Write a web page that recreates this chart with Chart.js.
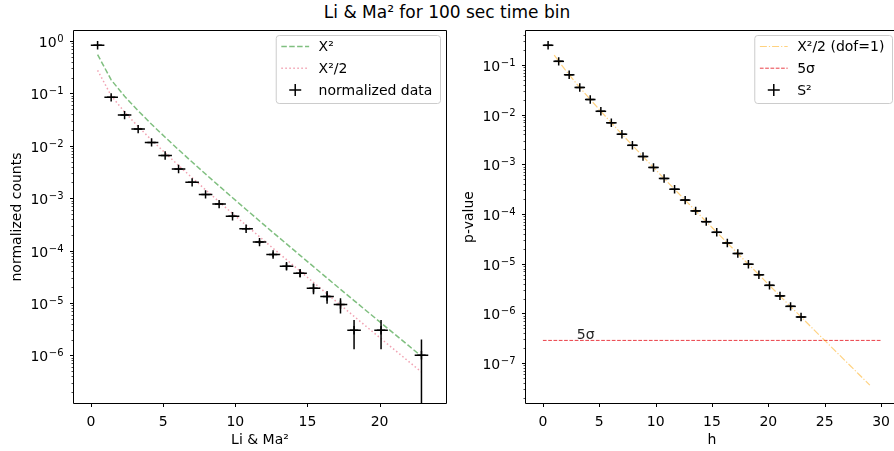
<!DOCTYPE html>
<html><head><meta charset="utf-8">
<script src="https://cdn.jsdelivr.net/npm/chart.js@4.4.1/dist/chart.umd.min.js"></script>
<style>
html,body{margin:0;padding:0;background:#fff;overflow:hidden;width:894px;height:451px;position:relative;}
#title{position:absolute;left:0;top:2px;width:894px;text-align:center;font-family:"DejaVu Sans";font-size:17px;line-height:20px;color:#000;}
#c1{position:absolute;left:0;top:0;}
#c2{position:absolute;left:452px;top:0;}
</style></head><body>
<div id="title">Li &amp; Ma² for 100 sec time bin</div>
<canvas id="c1" width="452" height="451"></canvas>
<canvas id="c2" width="460" height="451"></canvas>
<script>
// ---------- data ----------
const binCenters = [0.46, 1.40, 2.33, 3.27, 4.20, 5.14, 6.07, 7.01, 7.94, 8.88, 9.81, 10.75, 11.68, 12.62, 13.55, 14.49, 15.42, 16.36, 17.29, 18.23, 19.16, 20.10, 21.03, 21.97, 22.90];
const binHalfWidth = 0.47;
const normCounts = [0.83, 0.084, 0.0385, 0.0208, 0.0116, 0.0065, 0.0036, 0.0020, 0.00118, 0.00077, 0.00045, 0.00026, 0.000145, 8.4e-5, 5.0e-5, 3.7e-5, 1.9e-5, 1.32e-5, 9.3e-6, 3.0e-6, null, 3.0e-6, null, null, 1.0e-6];
const normErr = [9.1e-4, 2.9e-4, 1.96e-4, 1.44e-4, 1.08e-4, 8.1e-5, 6.0e-5, 4.5e-5, 3.4e-5, 2.8e-5, 2.1e-5, 1.6e-5, 1.2e-5, 9.2e-6, 7.1e-6, 6.1e-6, 4.4e-6, 3.6e-6, 3.0e-6, 1.7e-6, null, 1.7e-6, null, null, 1.0e-6];
const chi2Curve = [0.55, 0.181, 0.088, 0.0465, 0.0257, 0.01455, 0.0084, 0.00489, 0.002886, 0.001706, 0.001019, 6.08e-4, 3.67e-4, 2.20e-4, 1.34e-4, 8.08e-5, 4.92e-5, 2.98e-5, 1.82e-5, 1.11e-5, 6.8e-6, 4.15e-6, 2.55e-6, 1.56e-6, 9.6e-7];
const chi2HalfCurve = [0.275, 0.0905, 0.044, 0.02325, 0.01285, 0.007275, 0.0042, 0.002445, 0.001443, 0.000853, 5.095e-4, 3.04e-4, 1.835e-4, 1.10e-4, 6.7e-5, 4.04e-5, 2.46e-5, 1.49e-5, 9.1e-6, 5.55e-6, 3.4e-6, 2.075e-6, 1.275e-6, 7.8e-7, 4.8e-7];

const sPvalues = [0.249, 0.1184, 0.0635, 0.0353, 0.0202, 0.0117, 0.00687, 0.00405, 0.00242, 0.00144, 0.000868, 0.000521, 0.000316, 0.000191, 0.000116, 7.04e-5, 4.30e-5, 2.62e-5, 1.61e-5, 9.8e-6, 6.0e-6, 3.68e-6, 2.26e-6, 1.39e-6, 8.5e-7];
const hGrid = [1,2,3,4,5,6,7,8,9,10,11,12,13,14,15,16,17,18,19,20,21,22,23,24,25,26,27,28,29];
const pChi2Half = [0.1587, 0.0786, 0.0416, 0.02275, 0.01267, 0.00715, 0.00407, 0.00234, 0.00135, 0.000783, 0.000455, 0.000266, 0.000156, 9.14e-5, 5.38e-5, 3.17e-5, 1.87e-5, 1.10e-5, 6.54e-6, 3.87e-6, 2.29e-6, 1.36e-6, 8.1e-7, 4.8e-7, 2.87e-7, 1.71e-7, 1.02e-7, 6.05e-8, 3.62e-8];
const sigmaLineX = [0, 30];
const sigmaLevel = 2.87e-7;
const sigmaLabelX = 3;

const leftXTicks = [0, 5, 10, 15, 20];
const rightXTicks = [0, 5, 10, 15, 20, 25, 30];

// ---------- helpers ----------
const FONT = '"DejaVu Sans"';
Chart.defaults.font.family = FONT;
Chart.defaults.font.size = 14;
Chart.defaults.color = '#000';

function isDecade(v){ const e = Math.log10(v); return Math.abs(e - Math.round(e)) < 1e-6; }
function logExp(v){ return Math.round(Math.log10(v)); }
function logTicks(axis){
  const t = [];
  const k0 = Math.floor(Math.log10(axis.min)), k1 = Math.ceil(Math.log10(axis.max));
  for(let k=k0;k<=k1;k++) for(let m=1;m<10;m++){
    const v = m*Math.pow(10,k);
    if(v>=axis.min && v<=axis.max) t.push({value:v});
  }
  axis.ticks = t;
}
function pts(xs, ys){
  const out=[]; xs.forEach((x,i)=>{ if(ys[i]!==null && ys[i]!==undefined) out.push({x, y:ys[i]}); }); return out;
}
function filt(arr, ref){ return arr.filter((v,i)=>ref[i]!==null && ref[i]!==undefined); }

const mplPlugin = {
  id:'mpl',
  afterDatasetsDraw(chart){
    const ctx=chart.ctx, xs=chart.scales.x, ys=chart.scales.y, a=chart.chartArea;
    chart.data.datasets.forEach(ds=>{
      if(!ds.errX && !ds.errY) return;
      ctx.save();
      ctx.beginPath(); ctx.rect(a.left,a.top,a.right-a.left,a.bottom-a.top); ctx.clip();
      ctx.strokeStyle='#000'; ctx.lineWidth=1.5;
      ds.data.forEach((p,i)=>{
        const px=xs.getPixelForValue(p.x), py=ys.getPixelForValue(p.y);
        ctx.beginPath();
        if(ds.errX){ const ex=ds.errX[i]; ctx.moveTo(xs.getPixelForValue(p.x-ex),py); ctx.lineTo(xs.getPixelForValue(p.x+ex),py); }
        if(ds.errY && ds.errY[i]){
          const ey=ds.errY[i], lo=p.y-ey;
          ctx.moveTo(px, ys.getPixelForValue(p.y+ey));
          ctx.lineTo(px, lo>0 ? ys.getPixelForValue(lo) : a.bottom+2);
        }
        ctx.stroke();
      });
      ctx.restore();
    });
    const o = chart.options.plugins.mpl || {};
    if(o.annotation){
      ctx.save();
      ctx.font='14px '+FONT; ctx.fillStyle='#262626'; ctx.textAlign='left'; ctx.textBaseline='alphabetic';
      ctx.fillText(o.annotation.text, xs.getPixelForValue(o.annotation.x), ys.getPixelForValue(o.annotation.y)-1.5);
      ctx.restore();
    }
  },
  afterDraw(chart){
    const ctx=chart.ctx, xs=chart.scales.x, ys=chart.scales.y, a=chart.chartArea;
    const o = chart.options.plugins.mpl || {};
    ctx.save();
    ctx.strokeStyle='#000'; ctx.lineWidth=1;
    const L=Math.round(a.left)-0.5, R=Math.round(a.right)+0.5, T=Math.round(a.top)-0.5, B=Math.round(a.bottom)+0.5;
    ctx.beginPath(); ctx.moveTo(L,T); ctx.lineTo(R,T); ctx.lineTo(R,B); ctx.lineTo(L,B); ctx.closePath(); ctx.stroke();
    xs.ticks.forEach(t=>{ const x=Math.round(xs.getPixelForValue(t.value))+0.5; ctx.beginPath(); ctx.moveTo(x,B); ctx.lineTo(x,B+3.5); ctx.stroke(); });
    // y ticks + mathtext-like labels 10^k
    ys.ticks.forEach(t=>{
      const yv=ys.getPixelForValue(t.value);
      const y=Math.round(yv)+0.5; const maj=isDecade(t.value);
      ctx.lineWidth = maj?1:0.7;
      ctx.beginPath(); ctx.moveTo(L,y); ctx.lineTo(L-(maj?3.5:2),y); ctx.stroke();
      if(maj){
        const e=logExp(t.value);
        const expTxt = (e<0?'\u2212':'') + Math.abs(e);
        ctx.textBaseline='alphabetic'; ctx.fillStyle='#000';
        ctx.font='10px '+FONT;
        const ew=ctx.measureText(expTxt).width;
        const right=L-10;
        ctx.textAlign='left';
        ctx.fillText(expTxt, right-ew, yv+1);
        ctx.font='14px '+FONT;
        ctx.textAlign='right';
        ctx.fillText('10', right-ew-0.5, yv+6);
      }
    });
    if(o.legend){
      ctx.font='14px '+FONT;
      const items=o.legend.map(i=>chart.data.datasets[i]);
      const tw=Math.max(...items.map(d=>ctx.measureText(d.label).width));
      const pad=5.6, hl=27.8, htp=9.5, rowH=21.7;
      const w=pad*2+hl+htp+tw+2, h=68;
      const x0=a.right-6-w, y0=a.top+4;
      ctx.beginPath();
      if(ctx.roundRect) ctx.roundRect(x0+0.5,y0+0.5,w,h,3); else ctx.rect(x0+0.5,y0+0.5,w,h);
      ctx.fillStyle='rgba(255,255,255,0.8)'; ctx.fill();
      ctx.strokeStyle='#cccccc'; ctx.lineWidth=1; ctx.stroke();
      items.forEach((d,k)=>{
        const cy=y0+11.5+k*rowH;
        const hx0=x0+pad, hx1=hx0+hl;
        ctx.save();
        if(d.showLine){
          ctx.strokeStyle=d.borderColor; ctx.lineWidth=d.borderWidth; ctx.setLineDash(d.borderDash||[]);
          ctx.beginPath(); ctx.moveTo(hx0,cy); ctx.lineTo(hx1,cy); ctx.stroke();
        } else {
          const cx=(hx0+hx1)/2;
          ctx.strokeStyle='#000'; ctx.lineWidth=1.5;
          ctx.beginPath(); ctx.moveTo(cx-6,cy); ctx.lineTo(cx+6,cy); ctx.moveTo(cx,cy-6); ctx.lineTo(cx,cy+6); ctx.stroke();
        }
        ctx.restore();
        ctx.fillStyle='#000'; ctx.textAlign='left'; ctx.textBaseline='middle';
        ctx.fillText(d.label, hx1+htp, cy+1);
      });
    }
    ctx.restore();
  }
};

function makeChart(el, cfg){
  return new Chart(el, {
    type:'scatter',
    data:{datasets:cfg.datasets},
    plugins:[mplPlugin],
    options:{
      responsive:false, animation:false, devicePixelRatio:1,
      layout:{padding:{left:0,right:cfg.padRight,top:31,bottom:0}},
      plugins:{legend:{display:false}, tooltip:{enabled:false}, mpl:cfg.mpl},
      elements:{line:{tension:0}},
      scales:{
        x:{type:'linear', min:cfg.xmin, max:cfg.xmax, bounds:'data',
          grid:{display:false}, border:{display:false},
          afterBuildTicks:(ax)=>{ ax.ticks = cfg.xticks.map(v=>({value:v})); },
          afterFit:(ax)=>{ ax.height=48; },
          ticks:{padding:3, autoSkip:false, maxRotation:0, font:{size:14}, color:'#000', callback:(v)=>String(v)},
          title:{display:true, text:cfg.xtitle, font:{size:14}, color:'#000', padding:{top:0,bottom:2.5}}
        },
        y:{type:'logarithmic', min:cfg.ymin, max:cfg.ymax, bounds:'data',
          grid:{display:false}, border:{display:false},
          afterBuildTicks:logTicks,
          afterFit:(ax)=>{ ax.width=74; },
          ticks:{display:false},
          title:{display:true, text:cfg.ytitle, font:{size:14}, color:'#000', padding:{top:8.5,bottom:0}}
        }
      }
    }
  });
}

makeChart(document.getElementById('c1'), {
  padRight:6, xmin:-1.175, xmax:24.6, ymin:1.23e-7, ymax:1.55, xticks:leftXTicks,
  xtitle:'Li & Ma\u00B2', ytitle:'normalized counts',
  mpl:{legend:[1,2,0]},
  datasets:[
    {label:'normalized data', data:pts(binCenters, normCounts),
     errX:filt(binCenters,normCounts).map(()=>binHalfWidth), errY:filt(normErr,normCounts),
     showLine:false, pointStyle:'cross', pointRadius:4.2, pointBorderWidth:1.5, pointBorderColor:'#000', borderColor:'#000', order:0},
    {label:'X\u00B2', data:pts(binCenters, chi2Curve), showLine:true, borderColor:'rgba(0,128,0,0.5)', borderDash:[5.5,2.4], borderWidth:1.5, pointRadius:0, order:1},
    {label:'X\u00B2/2', data:pts(binCenters, chi2HalfCurve), showLine:true, borderColor:'rgba(220,20,60,0.4)', borderDash:[1.5,2.5], borderWidth:1.5, pointRadius:0, order:2}
  ]
});

makeChart(document.getElementById('c2'), {
  padRight:14, xmin:-1.5, xmax:31.5, ymin:1.58e-8, ymax:0.483, xticks:rightXTicks,
  xtitle:'h', ytitle:'p-value',
  mpl:{legend:[1,2,0], annotation:{text:'5\u03C3', x:sigmaLabelX, y:sigmaLevel}},
  datasets:[
    {label:'S\u00B2', data:pts(binCenters, sPvalues), errX:binCenters.map(()=>binHalfWidth),
     showLine:false, pointStyle:'cross', pointRadius:4.2, pointBorderWidth:1.5, pointBorderColor:'#000', borderColor:'#000', order:0},
    {label:'X\u00B2/2 (dof=1)', data:pts(hGrid, pChi2Half), showLine:true, borderColor:'rgba(255,165,0,0.5)', borderDash:[7,2,1.2,2], borderWidth:1.2, pointRadius:0, order:1},
    {label:'5\u03C3', data:pts(sigmaLineX, sigmaLineX.map(()=>sigmaLevel)), showLine:true, borderColor:'rgba(230,30,40,0.85)', borderDash:[3.7,1.6], borderWidth:1, pointRadius:0, order:2}
  ]
});
</script>
</body></html>
